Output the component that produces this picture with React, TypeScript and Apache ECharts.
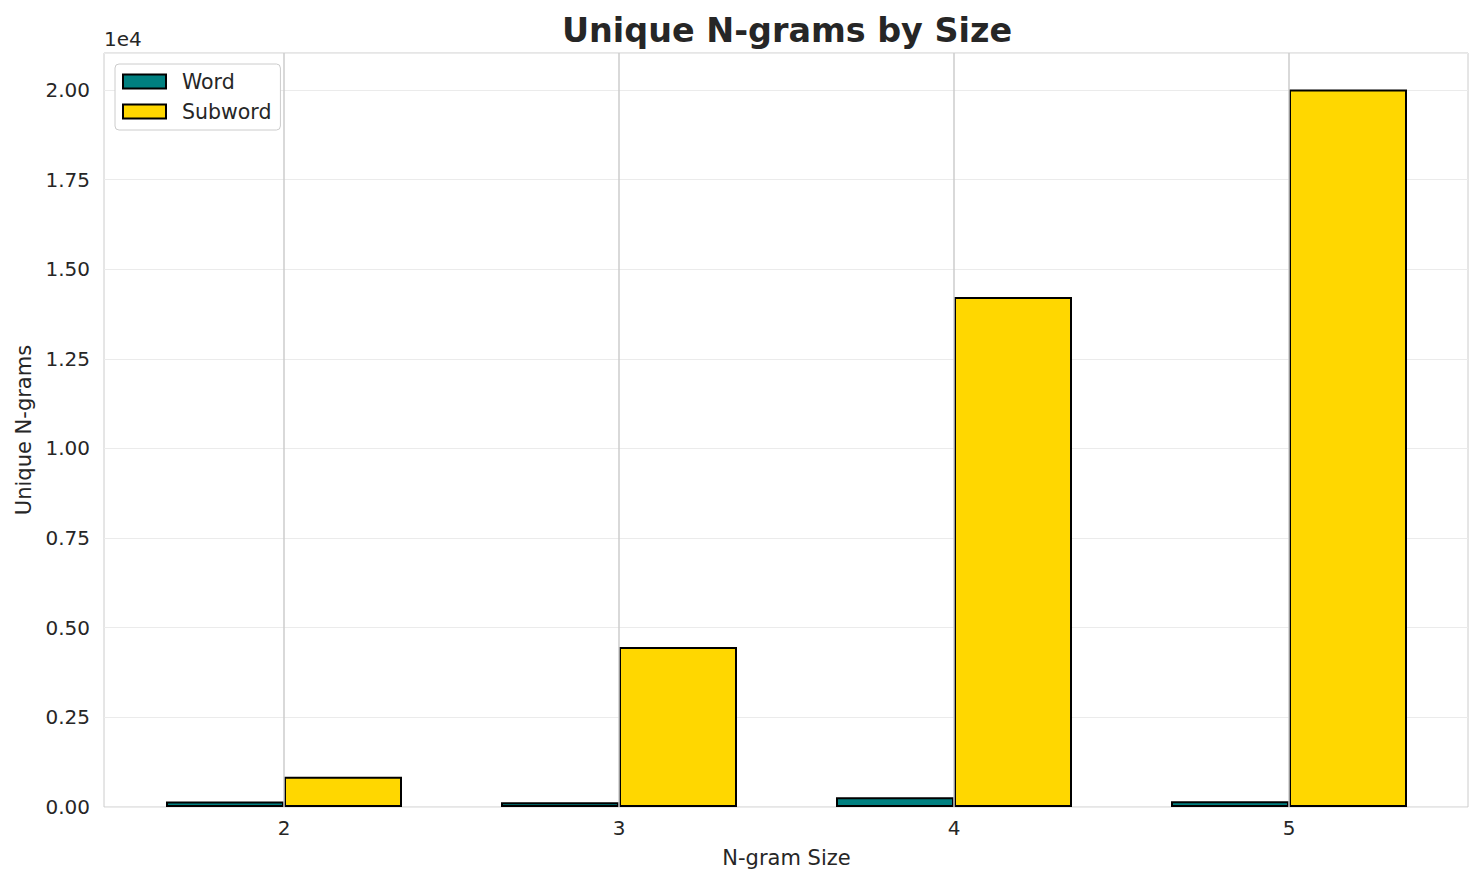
import React, { useEffect, useRef } from "react";
import * as echarts from "echarts";

const categories = ["2", "3", "4", "5"];
const wordValues = [150, 130, 270, 160];
const subwordValues = [845, 4460, 14225, 20010];
const seriesNames = ["Word", "Subword"];
const colors = ["#008080", "#FFD700"];
const yMax = 21030;
const yInterval = 2500;

const FONT = "DejaVu Sans";
const TEXT = "#262626";

export default function App() {
  const ref = useRef<HTMLDivElement>(null);
  useEffect(() => {
    if (!ref.current) return;
    const chart = echarts.init(ref.current, null, { renderer: "svg" });
    const option: any = {
      animation: false,
      backgroundColor: "#ffffff",
      textStyle: { fontFamily: FONT, color: TEXT },
      title: {
        text: "Unique N-grams by Size",
        left: 782,
        top: 9,
        textAlign: "center",
        textStyle: { fontFamily: FONT, fontSize: 33.4, fontWeight: "bold", color: TEXT },
      },
      legend: {
        data: seriesNames,
        orient: "vertical",
        left: 115,
        top: 64,
        padding: [7, 9, 8, 7],
        itemWidth: 43,
        itemHeight: 14,
        itemGap: 9,
        icon: "rect",
        borderColor: "#cccccc",
        borderWidth: 1,
        borderRadius: 4,
        backgroundColor: "#ffffff",
        itemStyle: { borderColor: "#000000", borderWidth: 2 },
        textStyle: { fontFamily: FONT, fontSize: 20.5, color: TEXT, lineHeight: 21, padding: [0, 0, 0, 11] },
      },
      grid: [
        { left: 104, right: 16, top: 53, bottom: 78, show: true, borderColor: "#cccccc", borderWidth: 1, backgroundColor: "transparent", outerBoundsMode: "none", containLabel: false },
        { left: 116.5, right: 27.5, top: 53, bottom: 78, outerBoundsMode: "none", containLabel: false },
      ],
      xAxis: [
        { gridIndex: 0, type: "value", min: 0, max: 1, show: false },
        {
          gridIndex: 1,
          type: "category",
          data: categories,
          axisLine: { show: false },
          axisTick: { show: false },
          splitLine: { show: false },
          axisLabel: { fontFamily: FONT, fontSize: 20, color: TEXT, margin: 11 },
          name: "N-gram Size",
          nameLocation: "middle",
          nameGap: 40,
          nameTextStyle: { fontFamily: FONT, fontSize: 21, color: TEXT },
        },
      ],
      yAxis: [
        {
          gridIndex: 0,
          type: "value",
          position: "left",
          min: 0,
          max: yMax,
          interval: yInterval,
          axisLine: { show: false },
          axisTick: { show: false },
          axisLabel: {
            fontFamily: FONT,
            fontSize: 20,
            color: TEXT,
            margin: 14,
            showMaxLabel: false,
            formatter: (v: number) => (v / 10000).toFixed(2),
          },
          splitLine: { show: true, lineStyle: { color: "#ebebeb", width: 1 } },
          name: "Unique N-grams",
          nameLocation: "middle",
          nameGap: 69,
          nameTextStyle: { fontFamily: FONT, fontSize: 21, color: TEXT },
        },
        {
          gridIndex: 1,
          type: "value",
          min: 0,
          max: yMax,
          show: false,
        },
        {
          gridIndex: 0,
          type: "value",
          position: "left",
          min: 0,
          max: yMax,
          axisLine: { show: false },
          axisTick: { show: false },
          axisLabel: { show: false },
          splitLine: { show: false },
          name: "1e4",
          nameLocation: "end",
          nameGap: 4,
          nameTextStyle: { fontFamily: FONT, fontSize: 20, color: TEXT, align: "left", verticalAlign: "bottom" },
        },
      ],
      series: [
        {
          type: "line",
          xAxisIndex: 1,
          yAxisIndex: 1,
          data: categories.map(() => "-"),
          showSymbol: false,
          silent: true,
          z: 1,
          lineStyle: { opacity: 0 },
          markLine: {
            silent: true,
            symbol: ["none", "none"],
            label: { show: false },
            lineStyle: { color: "#cccccc", type: "solid", width: 1.5 },
            data: categories.map((c) => ({ xAxis: c })),
          },
        },
        {
          name: seriesNames[0],
          type: "bar",
          xAxisIndex: 1,
          yAxisIndex: 1,
          data: wordValues,
          barWidth: 118,
          barGap: "0%",
          z: 3,
          itemStyle: { color: colors[0], borderColor: "#000000", borderWidth: 2 },
        },
        {
          name: seriesNames[1],
          type: "bar",
          xAxisIndex: 1,
          yAxisIndex: 1,
          data: subwordValues,
          barWidth: 118,
          barGap: "0%",
          z: 3,
          itemStyle: { color: colors[1], borderColor: "#000000", borderWidth: 2 },
        },
      ],
    };
    chart.setOption(option);
    return () => chart.dispose();
  }, []);
  return <div ref={ref} style={{ position: "absolute", left: 0, top: 0, width: 1484, height: 885 }} />;
}
